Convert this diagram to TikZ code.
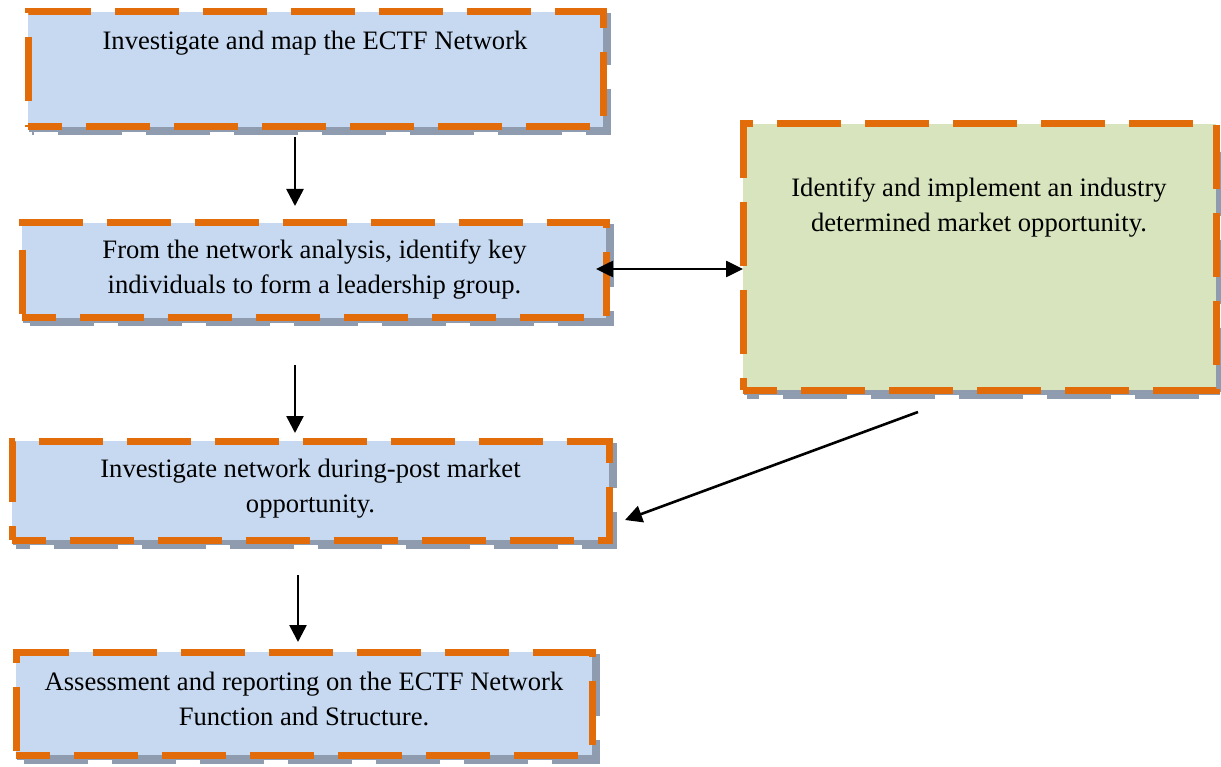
\documentclass[tikz,border=0pt]{standalone}
\usepackage{fontspec}
\setmainfont{Liberation Serif}
\usetikzlibrary{arrows.meta,calc,backgrounds}
\definecolor{boxorange}{HTML}{E36C0A}
\definecolor{boxblue}{HTML}{C6D9F1}
\definecolor{boxgreen}{HTML}{D7E4BD}
\definecolor{boxshadow}{HTML}{8F9CAF}
\begin{document}
\begin{tikzpicture}[x=1pt,y=-1pt,
  panel/.style={rectangle, draw=boxorange, line width=7pt,
    dash pattern=on 64pt off 24pt, dash phase=30pt,
    inner sep=0pt, outer sep=0pt},
  panelshadow/.style={fill=boxshadow, draw=boxshadow, line width=7pt,
    dash pattern=on 64pt off 24pt, dash phase=30pt},
  caption/.style={align=center, inner sep=0pt,
    font=\fontsize{26.6}{35}\selectfont},
  arr/.style={line width=2.6pt, -{Triangle[length=17pt,width=17pt]}},
  darr/.style={line width=2.6pt, {Triangle[length=17pt,width=16pt]}-{Triangle[length=17pt,width=16pt]}}]
\useasboundingbox (0,0) rectangle (1221,767);

% boxes
\node[panel, fill=boxblue,  minimum width=575pt, minimum height=115pt] (b1) at (315.5,69.5) {};
\node[panel, fill=boxblue,  minimum width=584pt, minimum height=95pt]  (b2) at (314,270.5) {};
\node[panel, fill=boxgreen, minimum width=473pt, minimum height=266pt] (b3) at (979.5,257) {};
\node[panel, fill=boxblue,  minimum width=597pt, minimum height=99pt]  (b4) at (310.5,490.5) {};
\node[panel, fill=boxblue,  minimum width=576pt, minimum height=103pt] (b5) at (304,703.5) {};

% drop shadows behind the boxes
\begin{scope}[on background layer]
  \foreach \n in {b1,b2,b3,b4,b5}
    \draw[panelshadow] ([shift={(4,5)}]\n.south west) rectangle ([shift={(4,5)}]\n.north east);
\end{scope}

% box texts
\node[caption] (t1) at (315,43) {Investigate and map the ECTF Network};
\node[caption] (t2) at (314.5,270) {From the network analysis, identify key\\individuals to form a leadership group.};
\node[caption] (t3) at (979,208) {Identify and implement an industry\\determined market opportunity.};
\node[caption] (t4) at (310.5,489) {Investigate network during-post market\\opportunity.};
\node[caption] (t5) at (304,699) {Assessment and reporting on the ECTF Network\\Function and Structure.};

% connectors
\draw[arr]  ([shift={(-20.5,10)}]b1.south) -- ([shift={(-19,-17)}]b2.north);
\draw[darr] ([shift={(-10,-1.5)}]b2.east) -- ([shift={(0,12)}]b3.west);
\draw[arr]  ([shift={(-19,47)}]b2.south) -- ([shift={(-15.5,-8)}]b4.north);
\draw[arr]  ([shift={(-61.5,22)}]b3.south) -- ([shift={(16,29.5)}]b4.east);
\draw[arr]  ([shift={(-12.5,35)}]b4.south) -- ([shift={(-6,-10)}]b5.north);
\end{tikzpicture}
\end{document}
